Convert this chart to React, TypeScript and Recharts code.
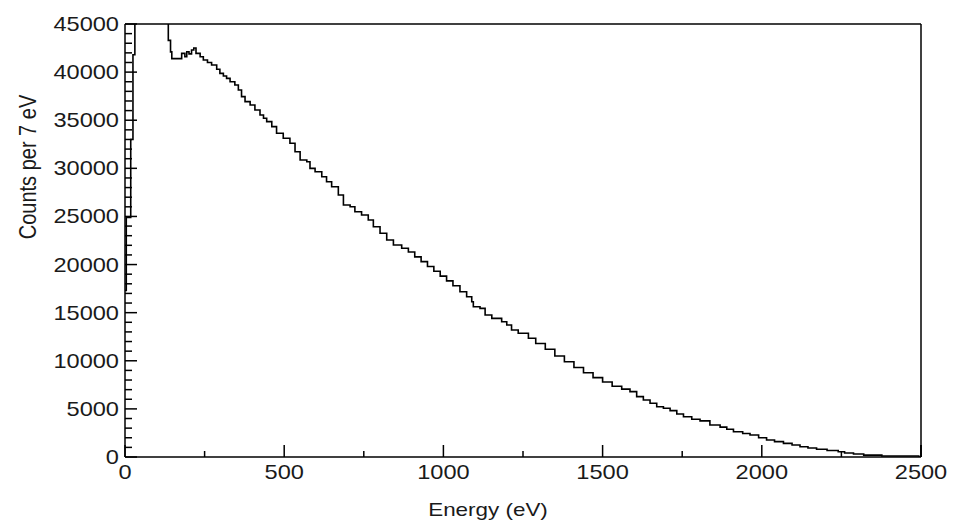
import React from "react";
import { LineChart, Line, XAxis, YAxis, ReferenceLine } from "recharts";

// energy (eV) at the start of each step, and counts in that step
const energy = [
  0, 4, 18, 25, 31, 80, 120, 136, 143, 147, 178, 188, 194, 201, 209, 216, 223,
  236, 246, 259, 272, 288, 298, 309, 319, 330, 345, 356, 366, 377, 393, 408,
  424, 435, 445, 461, 476, 497, 518, 534, 550, 571, 581, 597, 618, 633, 649,
  670, 686, 707, 722, 743, 764, 780, 801, 822, 843, 869, 890, 910, 930, 950,
  970, 990, 1010, 1030, 1052, 1073, 1089, 1094, 1115, 1131, 1152, 1183, 1199,
  1214, 1235, 1267, 1290, 1320, 1350, 1380, 1410, 1440, 1470, 1500, 1530,
  1560, 1586, 1607, 1628, 1649, 1670, 1691, 1712, 1733, 1754, 1780, 1806,
  1837, 1869, 1890, 1911, 1940, 1963, 1990, 2015, 2040, 2068, 2095, 2120,
  2145, 2172, 2205, 2240, 2260, 2288, 2320, 2377, 2493, 2500,
];
const counts = [
  17300, 24900, 33000, 41800, 70000, 90000, 60000, 43300, 42100, 41400, 41950,
  41600, 42120, 41900, 42300, 42500, 41950, 41600, 41260, 41000, 40740, 40290,
  39870, 39600, 39350, 39000, 38660, 38140, 37450, 36930, 36580, 36060, 35540,
  35200, 34850, 34330, 33640, 33120, 32600, 31730, 30870, 30690, 30000, 29650,
  29130, 28610, 28090, 27230, 26190, 26010, 25490, 25150, 24630, 23930, 23250,
  22550, 22030, 21690, 21300, 20800, 20300, 19800, 19300, 18800, 18300, 17800,
  17180, 16660, 16140, 15620, 15450, 14760, 14410, 14060, 13720, 13200, 12860,
  12340, 11800, 11200, 10500, 9900, 9300, 8750, 8250, 7800, 7350, 7050, 6790,
  6270, 5920, 5580, 5230, 5060, 4820, 4470, 4190, 3920, 3750, 3330, 3100,
  2880, 2630, 2450, 2290, 2000, 1770, 1600, 1420, 1250, 1070, 930, 800, 680,
  550, 420, 310, 200, 100, 0, 1250, 1250,
];

const xMajor = [0, 500, 1000, 1500, 2000, 2500];
const xTicks = [0, 250, 500, 750, 1000, 1250, 1500, 1750, 2000, 2250, 2500];
const yMajor = [0, 5000, 10000, 15000, 20000, 25000, 30000, 35000, 40000, 45000];
const yTicks: number[] = [];
for (let v = 0; v <= 45000; v += 1000) yTicks.push(v);

const data = energy.map((e, i) => ({ e, c: counts[i] }));

const FONT = "'Liberation Sans', Arial, sans-serif";
const TXT = "#1a1a1a";
const SX = 1.18;

function XTick(props: any) {
  const { x, y, payload } = props;
  const v = payload.value;
  const major = xMajor.includes(v);
  return (
    <g>
      <line x1={x} y1={y} x2={x} y2={y - (major ? 12 : 6)} stroke="#000" strokeWidth={1.5} />
      {major && (
        <text
          transform={`translate(${x},${y + 15}) scale(${SX},1)`}
          textAnchor="middle"
          dy="0.35em"
          fontSize={20}
          fontFamily={FONT}
          fill={TXT}
        >
          {v}
        </text>
      )}
    </g>
  );
}

function YTick(props: any) {
  const { x, y, payload } = props;
  const v = payload.value;
  const major = yMajor.includes(v);
  return (
    <g>
      <line x1={x} y1={y} x2={x + (major ? 12 : 7)} y2={y} stroke="#000" strokeWidth={1.5} />
      {major && (
        <text
          transform={`translate(${x - 6},${y}) scale(${SX},1)`}
          textAnchor="end"
          dy="0.35em"
          fontSize={20}
          fontFamily={FONT}
          fill={TXT}
        >
          {v}
        </text>
      )}
    </g>
  );
}

export default function App() {
  return (
    <div
      style={{
        position: "absolute",
        left: 0,
        top: 0,
        width: 953,
        height: 521,
        background: "#fff",
        fontFamily: FONT,
      }}
    >
      <LineChart
        width={953}
        height={521}
        data={data}
        margin={{ top: 24, right: 32, bottom: 63, left: 124 }}
      >
        <XAxis
          dataKey="e"
          type="number"
          domain={[0, 2500]}
          ticks={xTicks}
          interval={0}
          height={1}
          tickSize={0}
          tickMargin={0}
          tick={<XTick />}
          axisLine={{ stroke: "#000", strokeWidth: 1.5 }}
          tickLine={false}
        />
        <YAxis
          type="number"
          domain={[0, 45000]}
          allowDataOverflow
          ticks={yTicks}
          interval={0}
          width={1}
          tickSize={0}
          tickMargin={0}
          tick={<YTick />}
          axisLine={{ stroke: "#000", strokeWidth: 1.5 }}
          tickLine={false}
        />
        <ReferenceLine y={45000} stroke="#000" strokeWidth={1.5} />
        <ReferenceLine x={2500} stroke="#000" strokeWidth={1.5} />
        <Line
          type="stepAfter"
          dataKey="c"
          stroke="#000"
          strokeWidth={1.6}
          dot={false}
          isAnimationActive={false}
        />
      </LineChart>
      <div
        style={{
          position: "absolute",
          left: 488,
          top: 510,
          transform: `translate(-50%,-50%) scaleX(${SX})`,
          fontSize: 19,
          color: TXT,
          whiteSpace: "nowrap",
        }}
      >
        Energy (eV)
      </div>
      <div
        style={{
          position: "absolute",
          left: 28,
          top: 167,
          transform: `translate(-50%,-50%) rotate(-90deg) scaleY(${SX})`,
          fontSize: 20,
          color: TXT,
          whiteSpace: "nowrap",
        }}
      >
        Counts per 7 eV
      </div>
    </div>
  );
}
